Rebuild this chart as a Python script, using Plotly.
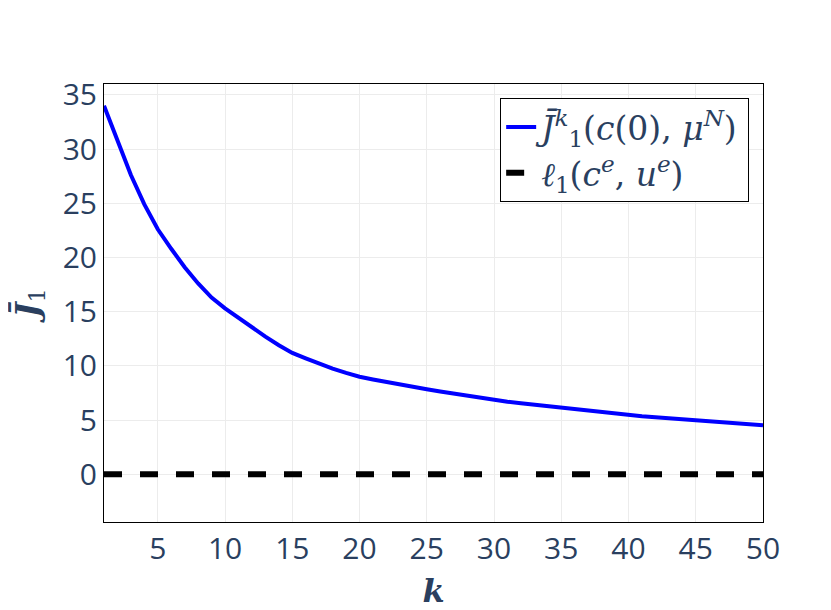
import plotly.graph_objects as go

k_values = list(range(1, 51))
j_bar_values = [
    34.0, 30.8, 27.6, 24.9, 22.6, 20.8, 19.1, 17.6, 16.3, 15.3,
    14.4, 13.5, 12.7, 11.9, 11.2, 10.7, 10.2, 9.75, 9.35, 9.0,
    8.75, 8.5, 8.25, 8.05, 7.84, 7.63, 7.43, 7.23, 7.04, 6.85,
    6.70, 6.55, 6.41, 6.27, 6.14, 6.0, 5.87, 5.74, 5.6, 5.45,
    5.36, 5.27, 5.17, 5.08, 4.99, 4.9, 4.8, 4.71, 4.61, 4.52,
]
equilibrium_cost = [0.0] * len(k_values)

label_j = "<i>J̄</i><sup><i>k</i></sup><sub>1</sub>(<i>c</i>(0), <i>μ</i><sup><i>N</i></sup>)"
label_l = "<i>ℓ</i><sub>1</sub>(<i>c</i><sup><i>e</i></sup>, <i>u</i><sup><i>e</i></sup>)"

serif = "DejaVu Serif"
text_color = "#2a3f5f"

fig = go.Figure()
fig.add_trace(go.Scatter(x=k_values, y=j_bar_values, mode="lines",
                         line=dict(color="blue", width=4), name=label_j))
fig.add_trace(go.Scatter(x=k_values, y=equilibrium_cost, mode="lines",
                         line=dict(color="black", width=6, dash="dash"), name=label_l))

fig.update_layout(
    width=831, height=610,
    margin=dict(l=96, r=76, t=76, b=96, autoexpand=False),
    paper_bgcolor="white", plot_bgcolor="white",
    font=dict(family="Open Sans", size=30, color=text_color),
    legend=dict(x=0.979, y=0.968, xanchor="right", yanchor="top",
                bgcolor="white", bordercolor="black", borderwidth=1,
                font=dict(family=serif, size=33, color=text_color),
                tracegroupgap=0),
    showlegend=True,
)
fig.update_xaxes(range=[1, 50], tick0=0, dtick=5, showgrid=True, gridcolor="#ececec",
                 showline=True, linecolor="black", linewidth=1, mirror=True,
                 zeroline=False, ticks="",
                 title=dict(text="<b><i>k</i></b>", font=dict(family=serif, size=32, color=text_color),
                            standoff=12))
fig.update_yaxes(range=[-4.4, 36], tick0=0, dtick=5, showgrid=True, gridcolor="#ececec",
                 showline=True, linecolor="black", linewidth=1, mirror=True,
                 zeroline=False, ticks="",
                 title=dict(text="<b><i>J̄</i></b><sub>1</sub>", font=dict(family=serif, size=32, color=text_color),
                            standoff=14))

fig.write_html("out.html")
